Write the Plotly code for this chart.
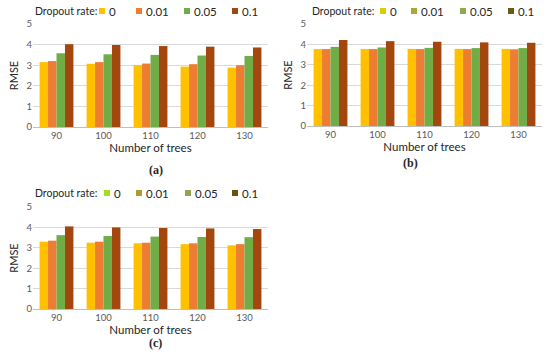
import plotly.graph_objects as go

trees = ["90", "100", "110", "120", "130"]
rates = ["0", "0.01", "0.05", "0.1"]

# RMSE values per dropout rate, subplot (a)
a_vals = {
    "0":    [3.15, 3.07, 3.00, 2.93, 2.88],
    "0.01": [3.20, 3.15, 3.08, 3.05, 3.00],
    "0.05": [3.58, 3.53, 3.50, 3.47, 3.45],
    "0.1":  [4.02, 3.98, 3.93, 3.90, 3.86],
}
# subplot (b)
b_vals = {
    "0":    [3.77, 3.77, 3.78, 3.78, 3.78],
    "0.01": [3.77, 3.77, 3.77, 3.77, 3.76],
    "0.05": [3.88, 3.85, 3.83, 3.82, 3.82],
    "0.1":  [4.22, 4.16, 4.13, 4.10, 4.08],
}
# subplot (c)
c_vals = {
    "0":    [3.30, 3.25, 3.22, 3.18, 3.12],
    "0.01": [3.35, 3.30, 3.25, 3.22, 3.18],
    "0.05": [3.62, 3.58, 3.55, 3.53, 3.52],
    "0.1":  [4.05, 4.00, 3.97, 3.95, 3.92],
}
y_ticks = [0, 1, 2, 3, 4, 5]

bar_colors = {"0": "#FFC000", "0.01": "#ED7D31", "0.05": "#70AD47", "0.1": "#A4470F"}
legend_colors_a = ["#FFC000", "#ED7D31", "#70AD47", "#A4470F"]
legend_colors_b = ["#D6D000", "#ADA53A", "#8DAA4C", "#6B5A14"]
legend_colors_c = ["#A8DC1E", "#B09A34", "#8FA552", "#6B5012"]

FONT = "Lato"
W, H = 550, 361
fig = go.Figure()

panels = [
    ("x", "y", a_vals),
    ("x2", "y2", b_vals),
    ("x3", "y3", c_vals),
]
for xa, ya, vals in panels:
    for r in rates:
        fig.add_trace(go.Bar(
            x=trees, y=vals[r], name=r, xaxis=xa, yaxis=ya, showlegend=False,
            marker=dict(color=bar_colors[r], line=dict(width=0)),
        ))

ax_common = dict(
    showgrid=False, showline=True, linecolor="#BFBFBF", linewidth=1, automargin=False,
    ticks="", tickfont=dict(family=FONT, size=9.5, color="#595959"),
    title=dict(text="Number of trees", font=dict(family=FONT, size=11.5, color="#262626"), standoff=1),
)
ay_common = dict(
    range=[0, 5], tickvals=y_ticks, showgrid=True, gridcolor="#D9D9D9", gridwidth=1,
    zeroline=False, showline=False, ticks="", automargin=False,
    tickfont=dict(family=FONT, size=9.5, color="#595959"),
    title=dict(text="RMSE", font=dict(family=FONT, size=11, color="#262626"), standoff=5),
)

fig.update_layout(
    width=W, height=H, margin=dict(l=0, r=0, t=0, b=0),
    paper_bgcolor="white", plot_bgcolor="white",
    barmode="group", bargap=0.28, bargroupgap=0,
    xaxis=dict(domain=[33 / W, 268 / W], anchor="y", **ax_common),
    yaxis=dict(domain=[1 - 127/H, 1 - 24/H], anchor="x", **ay_common),
    xaxis2=dict(domain=[307 / W, 542 / W], anchor="y2", **ax_common),
    yaxis2=dict(domain=[1 - 126/H, 1 - 24/H], anchor="x2", **ay_common),
    xaxis3=dict(domain=[33 / W, 268 / W], anchor="y3", **ax_common),
    yaxis3=dict(domain=[1 - 309/H, 1 - 207/H], anchor="x3", **ay_common),
    showlegend=False,
)

# manual legends (title, swatch + label per dropout rate)
legend_specs = [
    (33, 11, [102, 139, 187, 235], legend_colors_a),
    (310, 11, [383, 414, 463, 511], legend_colors_b),
    (33, 193, [107, 139, 188, 235], legend_colors_c),
]
for tx, cy, sx, cols in legend_specs:
    fig.add_annotation(text="Dropout rate:", x=tx / W, y=1 - cy / H, xref="paper", yref="paper",
                       xanchor="left", yanchor="middle", showarrow=False,
                       font=dict(family=FONT, size=10.5, color="#262626"))
    for r, x0, col in zip(rates, sx, cols):
        fig.add_shape(type="rect", xref="paper", yref="paper",
                      x0=(x0 - 3) / W, x1=(x0 + 3) / W, y0=1 - (cy + 3) / H, y1=1 - (cy - 3) / H,
                      fillcolor=col, line=dict(width=0))
        fig.add_annotation(text=r, x=(x0 + 5) / W, y=1 - cy / H, xref="paper", yref="paper",
                           xanchor="left", yanchor="middle", showarrow=False,
                           font=dict(family=FONT, size=11.5, color="#262626"))

for txt, x, y in [("(a)", 147, 170), ("(b)", 420, 163), ("(c)", 147, 352)]:
    fig.add_annotation(text="<b>" + txt + "</b>", x=x / W, y=1 - y / H, xref="paper", yref="paper",
                       showarrow=False, font=dict(family="Liberation Serif", size=12, color="#262626"))

fig.write_html("out.html", config={"displayModeBar": False},
               post_script="document.body.style.margin='0px';")
